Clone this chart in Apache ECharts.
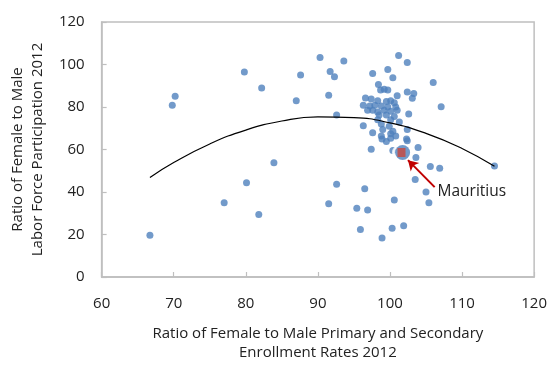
<!DOCTYPE html>
<html>
<head>
<meta charset="utf-8">
<script src="https://cdn.jsdelivr.net/npm/echarts@6/dist/echarts.min.js"></script>
<style>html,body{margin:0;padding:0;background:#fff}#c{width:550px;height:367px}</style>
</head>
<body>
<div id="c"></div>
<script>
// Enrollment ratio (x) and labor force participation ratio (y), 2012
const enrollment = [69.8,70.2,79.8,82.2,66.7,77.0,80.1,81.8,87.6,87.0,90.3,93.6,91.7,92.3,91.5,92.6,83.9,101.2,102.4,97.6,99.7,100.4,106.0,107.1,114.5,105.6,106.9,103.5,105.0,105.4,100.6,92.6,96.5,91.5,95.4,96.9,95.9,100.3,101.9,98.9,97.4,103.9,103.6,102.4,100.4,
  98.4,99.2,99.7,98.7,102.4,103.3,103.1,101.0,96.6,97.4,98.3,99.5,100.1,100.6,96.3,97.2,97.9,98.8,99.7,100.8,101.0,96.9,97.6,98.3,99.2,100.1,102.6,98.5,99.5,100.6,98.3,100.1,96.3,98.8,99.9,100.4,102.4,97.6,100.1,98.8,100.1,102.3,101.3,100.8,99.5,99.0,98.9];
const laborForce = [80.8,85.1,96.5,89.0,19.7,35.0,44.4,29.4,95.1,82.9,103.3,101.7,96.7,94.2,85.5,76.2,53.8,104.2,101.0,95.8,97.6,93.8,91.5,80.1,52.2,52.0,51.2,45.9,40.0,34.9,36.2,43.6,41.5,34.5,32.3,31.5,22.4,23.0,24.1,18.3,60.1,61.0,56.2,64.1,59.5,
  90.6,88.3,88.0,88.0,87.1,86.4,84.1,85.3,84.2,83.8,83.0,82.6,83.0,82.0,80.8,80.5,80.8,80.5,80.0,80.0,78.5,78.5,78.5,77.7,78.5,78.0,76.7,76.2,76.2,75.5,74.0,74.0,71.2,72.0,70.9,68.6,69.4,67.9,67.4,66.4,65.3,64.9,72.9,66.4,63.8,69.4,64.9];
// Polynomial trendline
const trendX = [66.7,70,75,80,85,90,95,100,105,110,114.5];
const trendY = [46.8,53.85,62.6,69.15,73.4,75.35,75.0,72.5,67.6,60.5,52.1];
// Highlighted country
const highlightName = 'Mauritius';
const highlightPoint = [101.6, 58.6];
const arrowFrom = [106.2, 42.3];
const labelAt = [106.6, 40.4];
const xTicks = [60,120,10];
const yTicks = [0,120,20];

const pts = enrollment.map((x,i)=>[x, laborForce[i]]);
const trend = trendX.map((x,i)=>[x, trendY[i]]);
const FONT = 'Open Sans';
const axisCol = '#bfbfbf';

const chart = echarts.init(document.getElementById('c'));
chart.setOption({
  animation:false,
  grid:{left:97.4, right:13, top:22, bottom:81, show:true, borderColor:axisCol, borderWidth:1.5},
  xAxis:{type:'value', min:xTicks[0], max:xTicks[1], interval:xTicks[2],
    name:'Ratio of Female to Male Primary and Secondary\nEnrollment Rates 2012',
    nameLocation:'middle', nameGap:47,
    nameTextStyle:{fontFamily:FONT, fontSize:15, color:'#222', lineHeight:19},
    axisLine:{lineStyle:{color:axisCol, width:1.5}},
    axisTick:{inside:true, length:5, lineStyle:{color:axisCol, width:1.2}},
    axisLabel:{fontFamily:FONT, fontSize:15, color:'#222', margin:19},
    splitLine:{show:false}},
  yAxis:{type:'value', min:yTicks[0], max:yTicks[1], interval:yTicks[2],
    name:'Ratio of Female to Male\nLabor Force Participation 2012',
    nameLocation:'middle', nameGap:48, nameRotate:90,
    nameTextStyle:{fontFamily:FONT, fontSize:15, color:'#222', lineHeight:20},
    axisLine:{show:true, lineStyle:{color:axisCol, width:1.5}},
    axisTick:{show:true, inside:true, length:5, lineStyle:{color:axisCol, width:1.2}},
    axisLabel:{fontFamily:FONT, fontSize:15, color:'#222', margin:17},
    splitLine:{show:false}},
  series:[
    {type:'scatter', data:pts, symbolSize:7, itemStyle:{color:'#4f81bd'}, z:2},
    {type:'scatter', data:[[highlightPoint[0]-0.35, highlightPoint[1]]], symbol:'emptyCircle', symbolSize:12,
      itemStyle:{color:'#fff', borderColor:'#c00000', borderWidth:2}, z:3},
    {type:'scatter', data:[[highlightPoint[0]+0.15, highlightPoint[1]]], symbolSize:15, itemStyle:{color:'#4f81bd'}, z:4},
    {type:'scatter', name:highlightName, data:[highlightPoint], symbol:'rect', symbolSize:[8,9],
      itemStyle:{color:'#c0504d', opacity:0.9}, z:5,
      markLine:{silent:true, symbol:['none','arrow'], symbolSize:[9,10],
        lineStyle:{color:'#c00000', width:2, type:'solid'}, label:{show:false},
        data:[[{coord:arrowFrom},{coord:[highlightPoint[0]+0.9, highlightPoint[1]-3.6]}]]},
      markPoint:{silent:true, symbol:'circle', symbolSize:0,
        data:[{coord:labelAt, label:{show:true, position:'right', distance:0, formatter:highlightName,
          fontFamily:FONT, fontSize:15.5, color:'#222'}}]}},
    {type:'line', data:trend, smooth:true, showSymbol:false, lineStyle:{color:'#000', width:1.2}, z:6}
  ]
});
</script>
</body>
</html>
